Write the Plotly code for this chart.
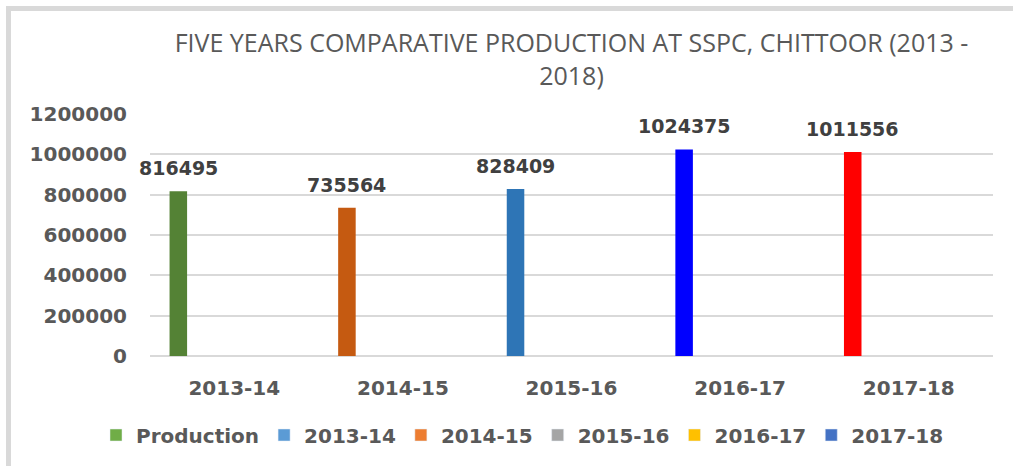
import plotly.graph_objects as go

# ---- data ----
categories = ["2013-14", "2014-15", "2015-16", "2016-17", "2017-18"]
production = [816495, 735564, 828409, 1024375, 1011556]
bar_colors = ["#548235", "#C55A11", "#2E75B6", "#0000FF", "#FF0000"]
legend_names = ["Production", "2013-14", "2014-15", "2015-16", "2016-17", "2017-18"]
legend_colors = ["#70AD47", "#5B9BD5", "#ED7D31", "#A5A5A5", "#FFC000", "#4472C4"]
y_ticks = [0, 200000, 400000, 600000, 800000, 1000000, 1200000]
title_text = "FIVE YEARS COMPARATIVE PRODUCTION AT SSPC, CHITTOOR (2013 -<br>2018)"

FONT = "DejaVu Sans"
AX_COL = "#595959"

fig = go.Figure()

fig.add_trace(go.Bar(
    x=categories, y=production,
    marker=dict(color=bar_colors, line=dict(width=0)),
    width=0.104, offset=-0.384,
    showlegend=False, name="Production",
    hoverinfo="x+y",
))

for name, col in zip(legend_names, legend_colors):
    fig.add_trace(go.Bar(
        x=categories, y=[None] * len(categories),
        name=name, marker=dict(color=col),
        width=0.104, showlegend=True,
    ))

annotations = []
for c, v in zip(categories, production):
    annotations.append(dict(
        x=c, y=v, xref="x", yref="y", text=str(v), showarrow=False,
        xshift=-56, yshift=10, yanchor="bottom",
        font=dict(family=FONT, size=19, color="#404040", weight="bold"),
    ))

# frame (light gray border on top and left as in reference)
def px_x(p):
    return (p - 150) / 843.0

def px_y(p):
    return (356 - p) / 242.0

shapes = [dict(
    type="rect", xref="paper", yref="paper",
    x0=px_x(8.5), x1=px_x(1030), y0=px_y(480), y1=px_y(8.5),
    line=dict(color="#D9D9D9", width=5), fillcolor="rgba(0,0,0,0)", layer="below",
)]

fig.update_layout(
    width=1013, height=466,
    margin=dict(l=150, r=20, t=114, b=110),
    paper_bgcolor="white", plot_bgcolor="white",
    barmode="overlay",
    title=dict(
        text=title_text, x=0.5, xref="paper", xanchor="center",
        y=1 - 52 / 466, yref="container", yanchor="top",
        font=dict(family="Open Sans", size=25, color=AX_COL),
    ),
    xaxis=dict(
        type="category", categoryorder="array", categoryarray=categories,
        range=[-0.5, len(categories) - 0.5],
        showgrid=False, showline=False, zeroline=False, ticks="",
        tickfont=dict(family=FONT, size=20, color=AX_COL, weight="bold"),
        ticklabelstandoff=18,
    ),
    yaxis=dict(
        range=[0, 1200000], tickvals=y_ticks, ticktext=[str(t) for t in y_ticks],
        showgrid=True, gridcolor="#D9D9D9", gridwidth=2,
        zeroline=True, zerolinecolor="#D9D9D9", zerolinewidth=2,
        showline=False, ticks="",
        tickfont=dict(family=FONT, size=20, color=AX_COL, weight="bold"),
        ticklabelstandoff=22,
    ),
    legend=dict(
        orientation="h", x=px_x(96), xanchor="left", y=px_y(435), yanchor="middle",
        font=dict(family=FONT, size=20, color=AX_COL, weight="bold"),
        bgcolor="rgba(0,0,0,0)", itemclick=False,
    ),
    annotations=annotations,
    shapes=shapes,
)

fig.write_html("out.html", config={"displayModeBar": False},
               post_script="document.body.style.margin='0';")
